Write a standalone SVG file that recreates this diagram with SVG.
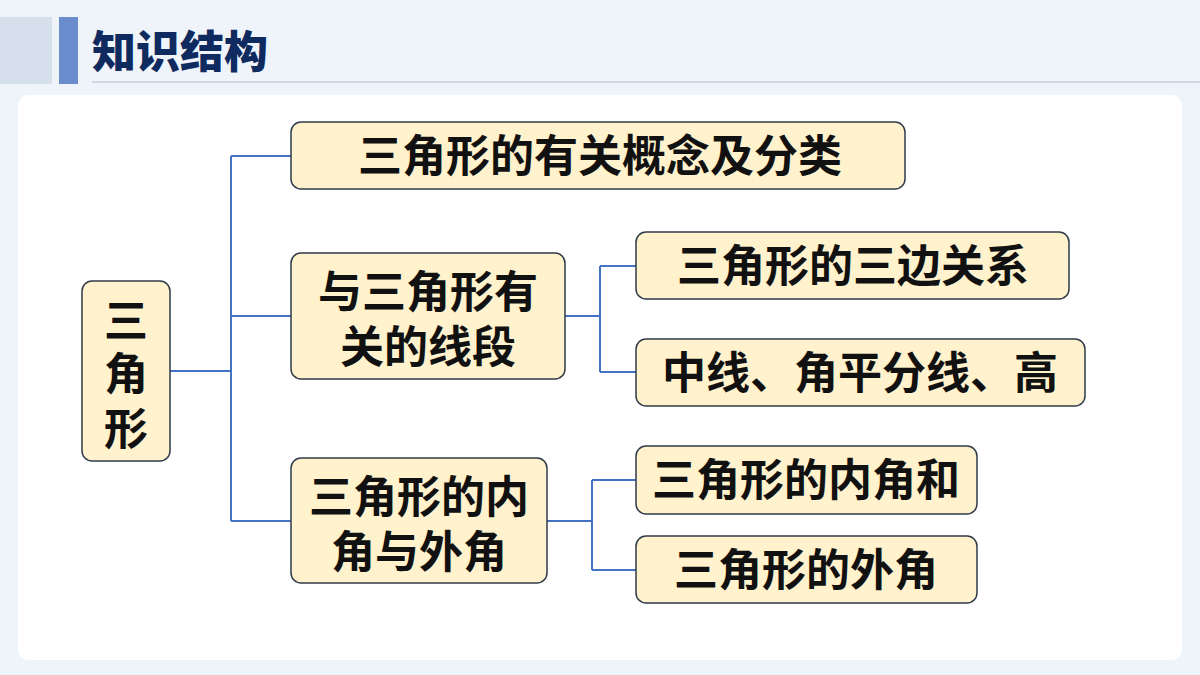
<svg xmlns="http://www.w3.org/2000/svg" width="1200" height="675" viewBox="0 0 1200 675">
<style>
.n{fill:#fff2cc;stroke:#2f3a4a;stroke-width:1.5}
.t{font-family:"Noto Sans CJK SC",sans-serif;font-weight:bold;font-size:44px;fill:#111;text-anchor:middle}
.c{fill:none;stroke:#4472c4;stroke-width:2}
</style>
<rect width="1200" height="675" fill="#eef4fa"/>
<rect x="0" y="17" width="52" height="67" fill="#d5e0ec"/>
<rect x="59" y="17" width="19" height="67" fill="#6a8ccc"/>
<text x="92" y="68" font-family="Noto Sans CJK SC,sans-serif" font-weight="900" font-size="44" fill="#0f2a5e">知识结构</text>
<line x1="92" y1="82" x2="1200" y2="82" stroke="#c5d0dc" stroke-width="1.5"/>
<rect x="18" y="95" width="1164" height="565" rx="10" fill="#fff"/>
<g id="connectors">
<path class="c" d="M170 371H231M231 156V521M231 156H291M231 316H291M231 521H291"/>
<path class="c" d="M565 316H600M600 266V372M600 266H636M600 372H636"/>
<path class="c" d="M547 521H592M592 480V570M592 480H636M592 570H636"/>
</g>
<g id="root"><rect class="n" x="82" y="281" width="88" height="180" rx="10"/><text class="t" font-size="40"><tspan x="126" y="337">三</tspan><tspan x="126" y="390">角</tspan><tspan x="126" y="445">形</tspan></text></g>
<g id="n1"><rect class="n" x="291" y="122" width="614" height="67" rx="10"/><text class="t" x="600" y="172">三角形的有关概念及分类</text></g>
<g id="n2"><rect class="n" x="291" y="253" width="274" height="126" rx="10"/><text class="t"><tspan x="428" y="308">与三角形有</tspan><tspan x="428" y="363">关的线段</tspan></text></g>
<g id="n3"><rect class="n" x="291" y="458" width="256" height="125" rx="10"/><text class="t"><tspan x="419" y="513">三角形的内</tspan><tspan x="419" y="568">角与外角</tspan></text></g>
<g id="n4"><rect class="n" x="636" y="232" width="433" height="67" rx="10"/><text class="t" x="853" y="282">三角形的三边关系</text></g>
<g id="n5"><rect class="n" x="636" y="339" width="449" height="67" rx="10"/><text class="t" x="860" y="389">中线、角平分线、高</text></g>
<g id="n6"><rect class="n" x="636" y="446" width="341" height="68" rx="10"/><text class="t" x="806" y="496">三角形的内角和</text></g>
<g id="n7"><rect class="n" x="636" y="536" width="341" height="67" rx="10"/><text class="t" x="806" y="586">三角形的外角</text></g>
</svg>
